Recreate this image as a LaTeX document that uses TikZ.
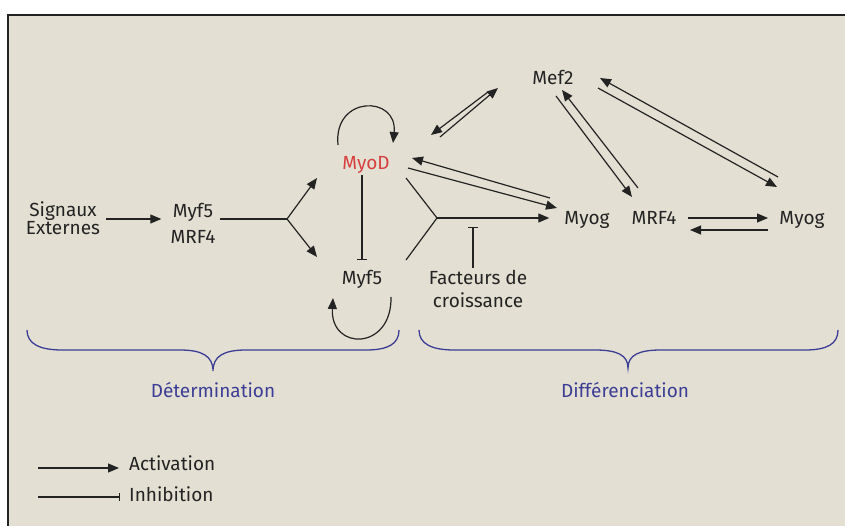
\documentclass[tikz,border=0pt]{standalone}
\usepackage{fontspec}
\setmainfont{Fira Sans}
\usetikzlibrary{arrows.meta}

\definecolor{fond}{RGB}{227,224,211}
\definecolor{bleu}{RGB}{60,62,150}
\definecolor{rouge}{RGB}{215,62,62}
\definecolor{encre}{RGB}{35,35,35}

\tikzset{
  act/.style={-{Triangle[length=11pt,width=9pt]}, line width=1.2pt, draw=encre},
  inh/.style={-{Bar[width=10pt,line width=1.2pt]}, line width=1.2pt, draw=encre},
  gene/.style={font=\fontsize{19}{21}\selectfont, text=encre, inner sep=1pt},
  phase/.style={font=\fontsize{19}{21}\selectfont, text=bleu, inner sep=1pt},
  accolade/.style={line width=1.3pt, draw=bleu},
}

\begin{document}
\begin{tikzpicture}[x=1pt,y=-1pt]
\useasboundingbox (0,0) rectangle (845,526);
\fill[white] (0,0) rectangle (845,526);
\fill[fond] (8,15) rectangle (845,526);
\draw[line width=1.5pt, encre] (845,15) -- (8,15) -- (8,526);

% noeuds
\node[gene, anchor=base, align=center, font=\fontsize{19}{17}\selectfont] (sig) at (63,235) {Signaux\\Externes};
\node[gene, anchor=base, align=center, font=\fontsize{19}{26}\selectfont] (myfmrf) at (193,244) {Myf5\\MRF4};
\node[gene, anchor=base, text=rouge] (myod) at (366,170) {MyoD};
\node[gene, anchor=base] (myf) at (362,285) {Myf5};
\node[gene, anchor=base, align=center, font=\fontsize{19}{23}\selectfont] (fact) at (478,308) {Facteurs de\\croissance};
\node[gene, anchor=base] (myogA) at (587,225) {Myog};
\node[gene, anchor=base] (mrf) at (654,225) {MRF4};
\node[gene, anchor=base] (myogB) at (802,225) {Myog};
\node[gene, anchor=base] (mef) at (553,85) {Mef2};

\node[phase, anchor=base] (det) at (213,397) {Détermination};
\node[phase, anchor=base] (diff) at (625,397) {Différenciation};

\node[gene, anchor=base west] (act) at (128,470) {Activation};
\node[gene, anchor=base west] (inhib) at (128,501) {Inhibition};

\coordinate (fork1) at (287,219);
\coordinate (fork2) at (437,218);

% determination
\draw[act, shorten <=5pt, shorten >=8pt] (sig.east |- fork1) -- (myfmrf.west |- fork1);
\draw[line width=1.2pt, encre, shorten <=3pt] (myfmrf.east |- fork1) -- (fork1);
\draw[act] (fork1) -- ++(30,-41);
\draw[act] (fork1) -- ++(30,38);

\draw[act] ([shift={(-28,-25)}]myod.base) .. controls +(-5,-50) and +(5,-48) .. ([shift={(27,-27)}]myod.base);
\draw[inh] ([shift={(-4,5)}]myod.base) -- ([shift={(0,-25)}]myf.base);
\draw[act] ([shift={(29,12)}]myf.base) .. controls +(1,54) and +(-3,53) .. ([shift={(-29,13)}]myf.base);

% differenciation
\draw[line width=1.2pt, encre] (fork2) -- ++(-31,-40);
\draw[line width=1.2pt, encre] (fork2) -- ++(-31,42);
\draw[act, shorten >=14pt] (fork2) -- (myogA.west |- fork2);
\draw[inh] ([shift={(-5,-40)}]fact.base) -- ++(0,-41);

\draw[act] ([shift={(-37,-27)}]myogA.base) -- ([shift={(46,-12)}]myod.base);
\draw[act] ([shift={(42,-2)}]myod.base) -- ([shift={(-30,-17)}]myogA.base);

\draw[act] ([shift={(-65,7)}]mef.base) -- ([shift={(65,-35)}]myod.base);
\draw[act] ([shift={(74,-33)}]myod.base) -- ([shift={(-55,3)}]mef.base);

\draw[act] ([shift={(-16,-37)}]mrf.base) -- ([shift={(9,5)}]mef.base);
\draw[act] ([shift={(3,11)}]mef.base) -- ([shift={(-22,-28)}]mrf.base);

\draw[act] ([shift={(-24,-48)}]myogB.base) -- ([shift={(47,-7)}]mef.base);
\draw[act] ([shift={(45,3)}]mef.base) -- ([shift={(-25,-38)}]myogB.base);

\draw[act] ([shift={(34,-7)}]mrf.base) -- ([shift={(-34,-7)}]myogB.base);
\draw[act] ([shift={(-34,5)}]myogB.base) -- ([shift={(36,5)}]mrf.base);

% accolades
\draw[accolade] (27,330) .. controls (27,344) and (40,350) .. (62,350) -- (180,350)
  .. controls (202,350) and (213,356) .. (213,371) .. controls (213,356) and (224,350) .. (246,350)
  -- (366,350) .. controls (388,350) and (399,344) .. (399,330);
\draw[accolade] (419,330) .. controls (419,344) and (432,350) .. (454,350) -- (595,350)
  .. controls (617,350) and (628,355) .. (628,368) .. controls (628,355) and (639,350) .. (661,350)
  -- (805,350) .. controls (827,350) and (838,344) .. (838,330);

% legende
\draw[act] ([shift={(-90,-2)}]act.base west) -- ([shift={(-9,-2)}]act.base west);
\draw[inh, -{Bar[width=8pt,line width=1.2pt]}] ([shift={(-90,-4)}]inhib.base west) -- ([shift={(-8,-4)}]inhib.base west);
\end{tikzpicture}
\end{document}
